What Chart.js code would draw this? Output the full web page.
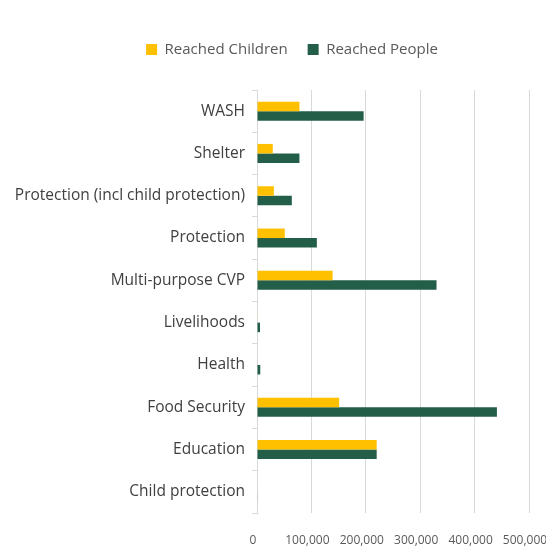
<!DOCTYPE html>
<html>
<head>
<meta charset="utf-8">
<script src="https://cdn.jsdelivr.net/npm/chart.js@4"></script>
<style>
    html, body { margin: 0; padding: 0; background: #fff; }
    #wrap { width: 546px; height: 549px; position: relative; }
</style>
</head>
<body>
<div id="wrap"><canvas id="chart"></canvas></div>
<script>
const sectors = [
    'WASH', 'Shelter', 'Protection (incl child protection)', 'Protection',
    'Multi-purpose CVP', 'Livelihoods', 'Health', 'Food Security',
    'Education', 'Child protection'
];
const reachedChildren = [78000, 29000, 31000, 51000, 139000, 1000, 1000, 151000, 220000, 1000];
const reachedPeople = [196000, 78000, 64000, 110000, 330000, 5500, 6000, 441000, 220000, 800];
const xTicks = [0, 100000, 200000, 300000, 400000, 500000];

const fontFamily = "'Open Sans', sans-serif";

// push legend down a bit so the plot starts lower
const legendSpace = {
    id: 'legendSpace',
    beforeInit(chart) {
        const origFit = chart.legend.fit;
        chart.legend.fit = function () {
            origFit.bind(chart.legend)();
            this.height += 23;
        };
    },
    afterLayout(chart) {
        // legend sits a little right of centre in the original
        chart.legend.left += 22;
        chart.legend.right += 22;
    }
};

new Chart(document.getElementById('chart'), {
    type: 'bar',
    data: {
        labels: sectors,
        datasets: [{
            label: 'Reached Children',
            data: reachedChildren,
            backgroundColor: '#FFC000'
        }, {
            label: 'Reached People',
            data: reachedPeople,
            backgroundColor: '#235E48'
        }]
    },
    options: {
        indexAxis: 'y',
        responsive: true,
        maintainAspectRatio: false,
        animation: false,
        layout: {
            padding: { top: 22, left: 11, right: 17, bottom: 0 }
        },
        datasets: {
            bar: {
                categoryPercentage: 0.45,
                barPercentage: 1.0
            }
        },
        plugins: {
            legend: {
                position: 'top',
                labels: {
                    boxWidth: 11,
                    boxHeight: 11,
                    padding: 20,
                    color: '#595959',
                    font: { size: 15, family: fontFamily }
                }
            },
            tooltip: { enabled: false }
        },
        scales: {
            x: {
                min: 0,
                max: 500000,
                afterBuildTicks: (scale) => {
                    scale.ticks = xTicks.map(v => ({ value: v }));
                },
                afterFit: (scale) => {
                    scale.paddingLeft = 0;
                    scale.paddingRight = 0;
                    scale.height = 36;
                },
                grid: {
                    color: '#D9D9D9',
                    lineWidth: 1,
                    drawTicks: false
                },
                border: { display: false },
                ticks: {
                    padding: 20,
                    labelOffset: -4,
                    maxRotation: 0,
                    color: '#595959',
                    font: { size: 12, family: fontFamily },
                    callback: (v) => v.toLocaleString('en-US')
                }
            },
            y: {
                afterFit: (scale) => {
                    scale.width = 246;
                },
                grid: {
                    offset: true,
                    drawOnChartArea: false,
                    tickLength: 5,
                    color: '#D9D9D9'
                },
                border: { display: true, color: '#D9D9D9' },
                ticks: {
                    padding: 7,
                    color: '#404040',
                    font: { size: 15.5, family: fontFamily }
                }
            }
        }
    },
    plugins: [legendSpace]
});
</script>
</body>
</html>
